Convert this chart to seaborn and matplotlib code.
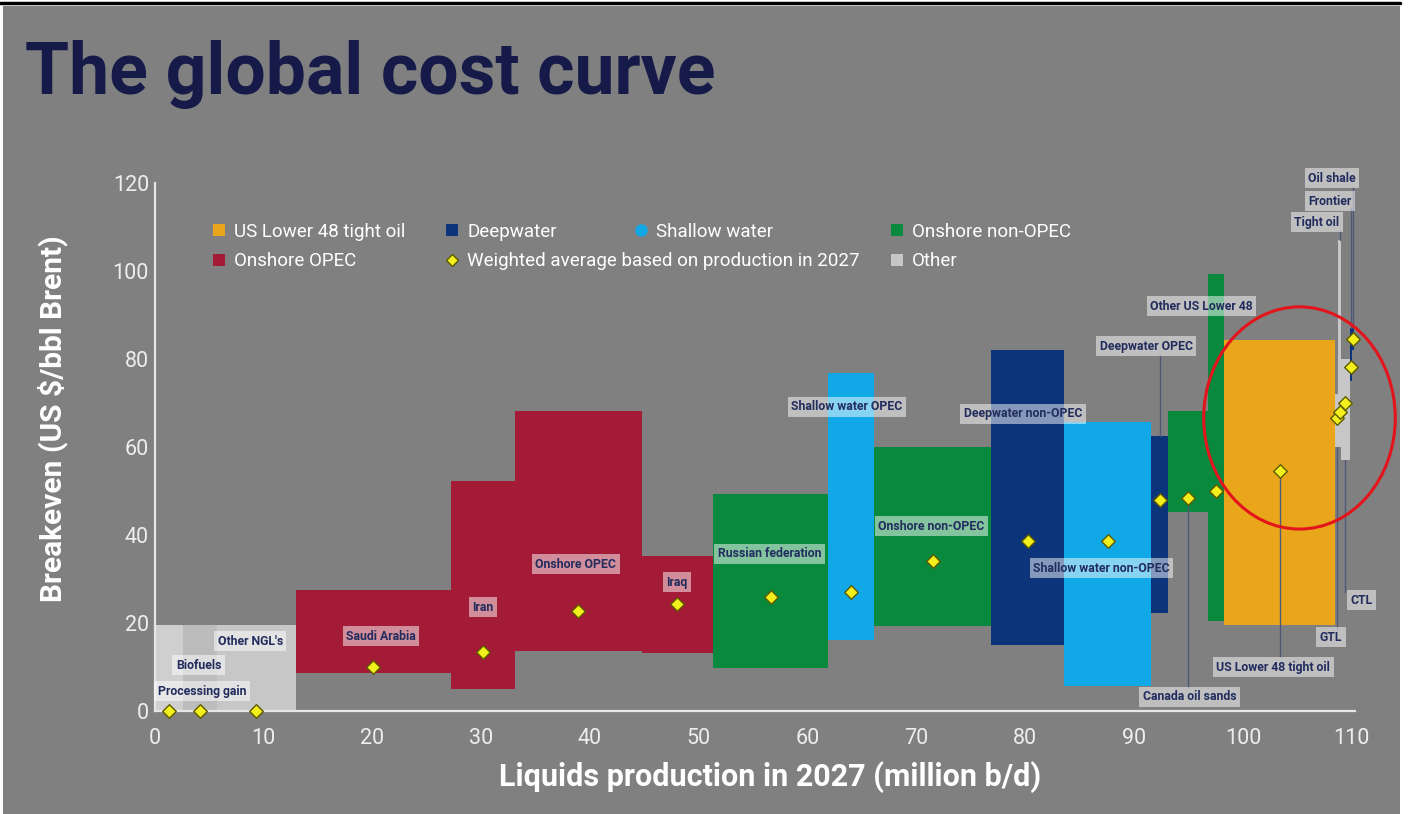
import numpy as np
import matplotlib
matplotlib.use("Agg")
import matplotlib.pyplot as plt
from matplotlib.lines import Line2D
from matplotlib.patches import Ellipse, Rectangle
import seaborn as sns

# ---- data: 2027 liquids supply segments (volume in million b/d, breakeven in US$/bbl Brent)
segments = ["Processing gain", "Biofuels", "Other NGL's", "Saudi Arabia", "Iran",
            "Onshore OPEC", "Iraq", "Russian federation", "Shallow water OPEC",
            "Onshore non-OPEC", "Deepwater non-OPEC", "Shallow water non-OPEC",
            "Deepwater OPEC", "Canada oil sands", "Other US Lower 48",
            "US Lower 48 tight oil", "GTL", "Tight oil", "CTL", "Frontier", "Oil shale"]
volumes = [2.6, 3.1, 7.3, 14.2, 5.9, 11.7, 6.5, 10.6, 4.2, 10.8, 6.7, 8.0,
           1.5, 3.7, 1.5, 10.2, 0.25, 0.3, 0.75, 0.25, 0.2]
breakeven_low = [0, 0, 0, 8.6, 5.0, 13.6, 13.2, 9.8, 16.1, 19.3, 15.0, 5.7,
                 22.3, 45.2, 20.5, 19.5, 60, 60, 57, 75, 82]
breakeven_high = [19.5, 19.5, 19.5, 27.5, 52.3, 68.2, 35.2, 49.3, 76.8, 60.0, 82.0, 65.7,
                  62.5, 68.2, 99.3, 84.3, 72, 107, 80, 87, 87]
weighted_avg = [0, 0, 0, 10.0, 13.4, 22.7, 24.3, 25.9, 27.0, 34.1, 38.6, 38.6,
                48.0, 48.4, 50.0, 54.5, 66.7, 67.9, 69.9, 78.1, 84.5]
groups = ["Other", "Other", "Other", "Onshore OPEC", "Onshore OPEC", "Onshore OPEC",
          "Onshore OPEC", "Onshore non-OPEC", "Shallow water", "Onshore non-OPEC",
          "Deepwater", "Shallow water", "Deepwater", "Onshore non-OPEC",
          "Onshore non-OPEC", "US Lower 48 tight oil", "Other", "Other", "Other",
          "Deepwater", "Deepwater"]
x_ticks = list(range(0, 111, 10))
y_ticks = list(range(0, 121, 20))

# ---- styling
BG = "#808080"
NAVY_TEXT = "#222d5e"
palette = {
    "US Lower 48 tight oil": "#e9a61b",
    "Deepwater": "#0b347a",
    "Shallow water": "#10a8e6",
    "Onshore non-OPEC": "#08893e",
    "Onshore OPEC": "#a31b36",
    "Other": "#c7c7c7",
}
shade_override = {"Processing gain": "#cfcfcf", "Biofuels": "#bcbcbc"}

sns.set_theme(style="ticks")
plt.rcParams["font.family"] = ["Roboto", "DejaVu Sans"]

W, H = 1413, 814
fig = plt.figure(figsize=(W / 100, H / 100), dpi=100, facecolor="white")
fig.add_artist(Rectangle((3 / W, 0), (1400 - 3) / W, 1 - 6 / H,
                         transform=fig.transFigure, facecolor=BG, edgecolor="none", zorder=-10))
fig.add_artist(Line2D([0, 1400 / W], [1 - 3 / H, 1 - 3 / H], color="black", lw=2.5))

ax = fig.add_axes([154.5 / W, 103 / H, (1355 - 154.5) / W, (711 - 183) / H])
ax.set_facecolor("none")

vol = np.array(volumes)
starts = np.concatenate([[0], np.cumsum(vol)[:-1]])
mids = starts + vol / 2
low = np.array(breakeven_low)
high = np.array(breakeven_high)
colors = [shade_override.get(s, palette[g]) for s, g in zip(segments, groups)]

ax.bar(starts, high - low, width=vol, bottom=low, align="edge",
       color=colors, linewidth=0, zorder=2)

sns.scatterplot(x=mids, y=weighted_avg, marker="D", s=48, color="#f3ef1d",
                edgecolor="#5c5a00", linewidth=1.0, ax=ax, zorder=6, clip_on=False,
                legend=False)

ax.set_xlim(0, 110.3)
ax.set_ylim(0, 120)
ax.set_xticks(x_ticks)
ax.set_yticks(y_ticks)
ax.tick_params(axis="both", length=0, labelsize=15.5, labelcolor="#eeeeee")
ax.tick_params(axis="x", pad=12)
ax.tick_params(axis="y", pad=4)
for side in ("top", "right"):
    ax.spines[side].set_visible(False)
for side in ("left", "bottom"):
    ax.spines[side].set_color("#e6e6e6")
    ax.spines[side].set_linewidth(1.6)
ax.grid(False)

ax.set_xlabel("Liquids production in 2027 (million b/d)", fontsize=22,
              fontweight="bold", color="white")
ax.xaxis.set_label_coords(0.5127, -0.125)
ax.xaxis.label.set_verticalalignment("center")
ax.set_ylabel("Breakeven (US $/bbl Brent)", fontsize=21.5, fontweight="bold", color="white")
ax.yaxis.set_label_coords(-0.0845, 0.554)
ax.yaxis.label.set_verticalalignment("center")

# ---- segment labels
idx = {s: i for i, s in enumerate(segments)}
inline_labels = {
    "Processing gain": (4.35, 4.5), "Biofuels": (4.05, 10.4), "Other NGL's": (8.8, 15.9),
    "Saudi Arabia": (20.8, 17.0), "Iran": (30.2, 23.6), "Onshore OPEC": (38.7, 33.4),
    "Iraq": (48.0, 29.3), "Russian federation": (56.5, 35.7),
    "Shallow water OPEC": (63.6, 69.1), "Onshore non-OPEC": (71.4, 42.0),
    "Deepwater non-OPEC": (79.8, 67.5), "Shallow water non-OPEC": (87.0, 32.5),
    "Other US Lower 48": (96.2, 92.0),
}
# label position and the end of its leader line
leader_labels = {
    "Deepwater OPEC": ((91.1, 82.9), "top", 81.0),
    "Canada oil sands": ((95.1, 3.2), "avg", 5.2),
    "US Lower 48 tight oil": ((102.8, 10.0), "avg", 12.3),
    "GTL": ((108.1, 16.8), "low", 18.4),
    "CTL": ((110.9, 25.2), "low", 27.0),
    "Tight oil": ((106.8, 111.1), "top", 109.3),
    "Frontier": ((108.0, 115.9), "top", 114.3),
    "Oil shale": ((108.2, 121.1), "top", 119.1),
}
box = dict(boxstyle="square,pad=0.28", facecolor="white", alpha=0.5, edgecolor="none")
label_font = dict(fontsize=8.8, fontweight="bold", color=NAVY_TEXT, ha="center", va="center")

for name, (lx, ly) in inline_labels.items():
    ax.text(lx, ly, name, bbox=box, zorder=7, **label_font)

for name, ((lx, ly), anchor, y_end) in leader_labels.items():
    i = idx[name]
    y_start = {"top": high[i], "low": low[i], "avg": weighted_avg[i]}[anchor]
    ax.plot([mids[i], mids[i]], [y_start, y_end], color="#505a78", lw=1.0,
            zorder=5, clip_on=False)
    ax.text(lx, ly, name, bbox=box, zorder=7, clip_on=False, **label_font)

# ---- highlight ring around the high-cost tail
ax.add_patch(Ellipse((105.2, 66.6), 17.6, 50.5, fill=False, edgecolor="#e3141b",
                     lw=2.2, zorder=8, clip_on=False))

# ---- legend laid out in four columns
def legend_column(entries, x_px):
    handles = [Line2D([], [], linestyle="none", marker=m, markersize=ms, markerfacecolor=fc,
                      markeredgecolor=ec, markeredgewidth=mew) for _, m, ms, fc, ec, mew in entries]
    leg = fig.legend(handles, [e[0] for e in entries], loc="upper left",
                     bbox_to_anchor=(x_px / W, 1 - 223 / H), frameon=False,
                     fontsize=13.5, labelcolor="white", handlelength=0.8,
                     handletextpad=0.4, borderpad=0, borderaxespad=0, labelspacing=0.61)
    return leg

legend_column([("US Lower 48 tight oil", "s", 8, palette["US Lower 48 tight oil"], "none", 0),
               ("Onshore OPEC", "s", 8, palette["Onshore OPEC"], "none", 0)], 211.5)
legend_column([("Deepwater", "s", 8, palette["Deepwater"], "none", 0),
               ("Weighted average based on production in 2027", "D", 6, "#f3ef1d", "#5c5a00", 1)], 444.5)
legend_column([("Shallow water", "o", 9, palette["Shallow water"], "none", 0)], 633.5)
legend_column([("Onshore non-OPEC", "s", 8, palette["Onshore non-OPEC"], "none", 0),
               ("Other", "s", 8, palette["Other"], "none", 0)], 889.5)

# ---- title
fig.text(25 / W, 1 - 94 / H, "The global cost curve", fontsize=51.5, fontweight="bold",
         color="#151a48", ha="left", va="baseline")

fig.savefig("out.png", dpi=100, facecolor=fig.get_facecolor())
